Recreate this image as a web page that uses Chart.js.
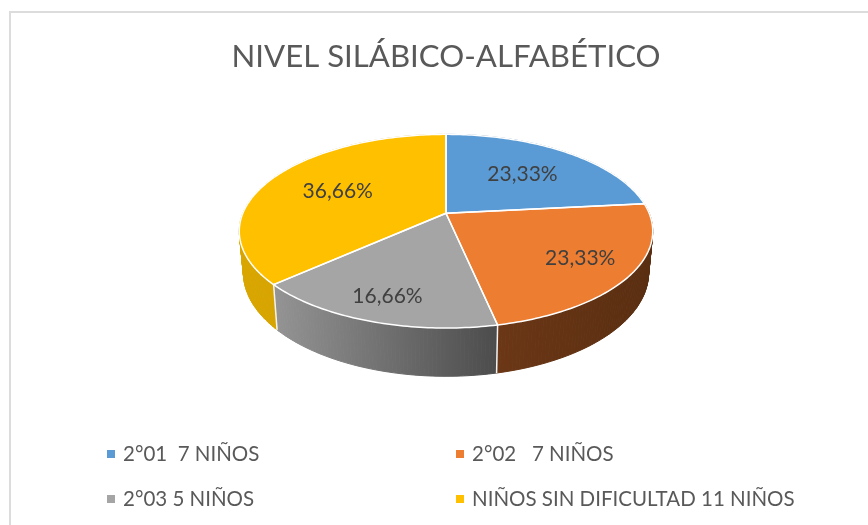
<!DOCTYPE html>
<html>
<head>
<meta charset="utf-8">
<style>
  html, body { margin: 0; padding: 0; background: #fff; }
  canvas { display: block; }
</style>
<script src="https://cdn.jsdelivr.net/npm/chart.js@4"></script>
</head>
<body>
<canvas id="chart" width="868" height="525"></canvas>
<script>
// data
const titleText = "NIVEL SILÁBICO-ALFABÉTICO";
const categories = ["2°01  7 NIÑOS", "2°02   7 NIÑOS", "2°03 5 NIÑOS", "NIÑOS SIN DIFICULTAD 11 NIÑOS"];
const children = [7, 7, 5, 11];
const percentLabels = ["23,33%", "23,33%", "16,66%", "36,66%"];
const topColors = ["#5b9bd5", "#ed7d31", "#a5a5a5", "#ffc000"];
const sideColors = [["#3a6a96", "#3a6a96"], ["#6b3716", "#5a2e11"], ["#939393", "#4c4c4c"], ["#d9a600", "#c89800"]];
const labelRadius = [0.61, 0.75, 0.8, 0.61];

// look of the tilted disc, relative to the radius that Chart.js gives the pie
const tilt = -0.1856;    // perspective of the disc
const stretchX = 1.53;
const stretchY = 0.7042;
const wallDrop = 0.303;  // how far the lower rim sits under the top rim
const lowerX = 0.98;
const lowerY = 1.07;

// angle comes from the arc element, 0 rad is at 3 o'clock
function project(arc, angle, r, lower) {
  const X = r * Math.cos(angle);
  const Y = r * Math.sin(angle);
  const d = 1 + tilt * Y;
  const R = arc.outerRadius;
  const px = stretchX * R * X / d;
  const py = stretchY * R * Y / d;
  if (lower) {
    return { x: arc.x + px * lowerX, y: arc.y + wallDrop * R + py * lowerY };
  }
  return { x: arc.x + px, y: arc.y + py };
}

function rimPoints(arc, lower) {
  const pts = [];
  const steps = Math.ceil((arc.endAngle - arc.startAngle) * 60);
  for (let i = 0; i <= steps; i++) {
    pts.push(project(arc, arc.startAngle + (arc.endAngle - arc.startAngle) * i / steps, 1, lower));
  }
  return pts;
}

function tracePath(ctx, pts) {
  ctx.beginPath();
  pts.forEach((p, i) => (i ? ctx.lineTo(p.x, p.y) : ctx.moveTo(p.x, p.y)));
}

const frame = {
  id: "frame",
  beforeDraw(chart) {
    const ctx = chart.ctx;
    ctx.save();
    ctx.fillStyle = "#fff";
    ctx.fillRect(0, 0, chart.width, chart.height);
    ctx.strokeStyle = "#dcdcdc";
    ctx.lineWidth = 2;
    ctx.beginPath();
    ctx.moveTo(10, chart.height);
    ctx.lineTo(10, 12);
    ctx.lineTo(chart.width, 12);
    ctx.stroke();
    ctx.restore();
  }
};

const tiltedPie = {
  id: "tiltedPie",
  beforeDatasetDraw(chart, args) {
    const ctx = chart.ctx;
    const arcs = chart.getDatasetMeta(args.index).data;
    ctx.save();
    ctx.lineJoin = "round";

    // walls first, the top face covers whatever is hidden
    arcs.forEach((arc, i) => {
      const upper = rimPoints(arc, false);
      const lower = rimPoints(arc, true);
      const left = Math.min(...lower.map(p => p.x));
      const right = Math.max(...lower.map(p => p.x));
      const grad = ctx.createLinearGradient(left, 0, right, 0);
      grad.addColorStop(0, sideColors[i][0]);
      grad.addColorStop(1, sideColors[i][1]);
      ctx.fillStyle = grad;
      ctx.strokeStyle = grad;
      ctx.lineWidth = 1;
      for (let k = 0; k < upper.length - 1; k++) {
        tracePath(ctx, [upper[k], upper[k + 1], lower[k + 1], lower[k]]);
        ctx.closePath();
        ctx.fill();
        ctx.stroke();
      }
    });

    // white joints between the visible walls
    ctx.strokeStyle = "#f2f2f2";
    ctx.lineWidth = 1.5;
    arcs.forEach(arc => {
      const deg = (arc.endAngle + Math.PI / 2) * 180 / Math.PI;
      if (deg > 100 && deg < 260) {
        tracePath(ctx, [project(arc, arc.endAngle, 1, false), project(arc, arc.endAngle, 1, true)]);
        ctx.stroke();
      }
    });

    // top face
    arcs.forEach((arc, i) => {
      tracePath(ctx, [{ x: arc.x, y: arc.y }, ...rimPoints(arc, false)]);
      ctx.closePath();
      ctx.fillStyle = arc.options.backgroundColor;
      ctx.fill();
    });
    ctx.strokeStyle = "#fff";
    ctx.lineWidth = 1.5;
    arcs.forEach(arc => {
      tracePath(ctx, [{ x: arc.x, y: arc.y }, ...rimPoints(arc, false)]);
      ctx.closePath();
      ctx.stroke();
    });
    ctx.restore();
    return false;
  },
  afterDatasetsDraw(chart) {
    const ctx = chart.ctx;
    const arcs = chart.getDatasetMeta(0).data;
    ctx.save();
    ctx.font = "21px Lato";
    ctx.fillStyle = "#404040";
    ctx.textAlign = "center";
    ctx.textBaseline = "middle";
    arcs.forEach((arc, i) => {
      const p = project(arc, (arc.startAngle + arc.endAngle) / 2, labelRadius[i], false);
      ctx.fillText(percentLabels[i], p.x, p.y);
    });
    ctx.restore();
  }
};

// the two column legend of the original, Chart.js only centres its rows
const twoColumnLegend = {
  id: "twoColumnLegend",
  afterDraw(chart) {
    const ctx = chart.ctx;
    const colX = [107, 456];
    const rowY = [454, 499];
    ctx.save();
    ctx.font = "20.5px Lato";
    ctx.textBaseline = "middle";
    chart.data.labels.forEach((label, i) => {
      const x = colX[i % 2];
      const y = rowY[Math.floor(i / 2)];
      ctx.fillStyle = chart.data.datasets[0].backgroundColor[i];
      ctx.fillRect(x, y - 4, 8, 8);
      ctx.fillStyle = "#595959";
      ctx.fillText(label, x + 16, y);
    });
    ctx.restore();
  }
};

new Chart(document.getElementById("chart"), {
  type: "pie",
  data: {
    labels: categories,
    datasets: [{
      data: children,
      backgroundColor: topColors,
      borderWidth: 0
    }]
  },
  options: {
    responsive: false,
    animation: false,
    layout: { padding: { left: 24, top: 0, bottom: 179 } },
    plugins: {
      legend: { display: false },
      tooltip: { enabled: false },
      title: {
        display: true,
        text: titleText,
        color: "#595959",
        font: { family: "Lato", size: 31.2, weight: "normal" },
        padding: { top: 38, bottom: 5 }
      }
    }
  },
  plugins: [frame, tiltedPie, twoColumnLegend]
});
</script>
</body>
</html>
